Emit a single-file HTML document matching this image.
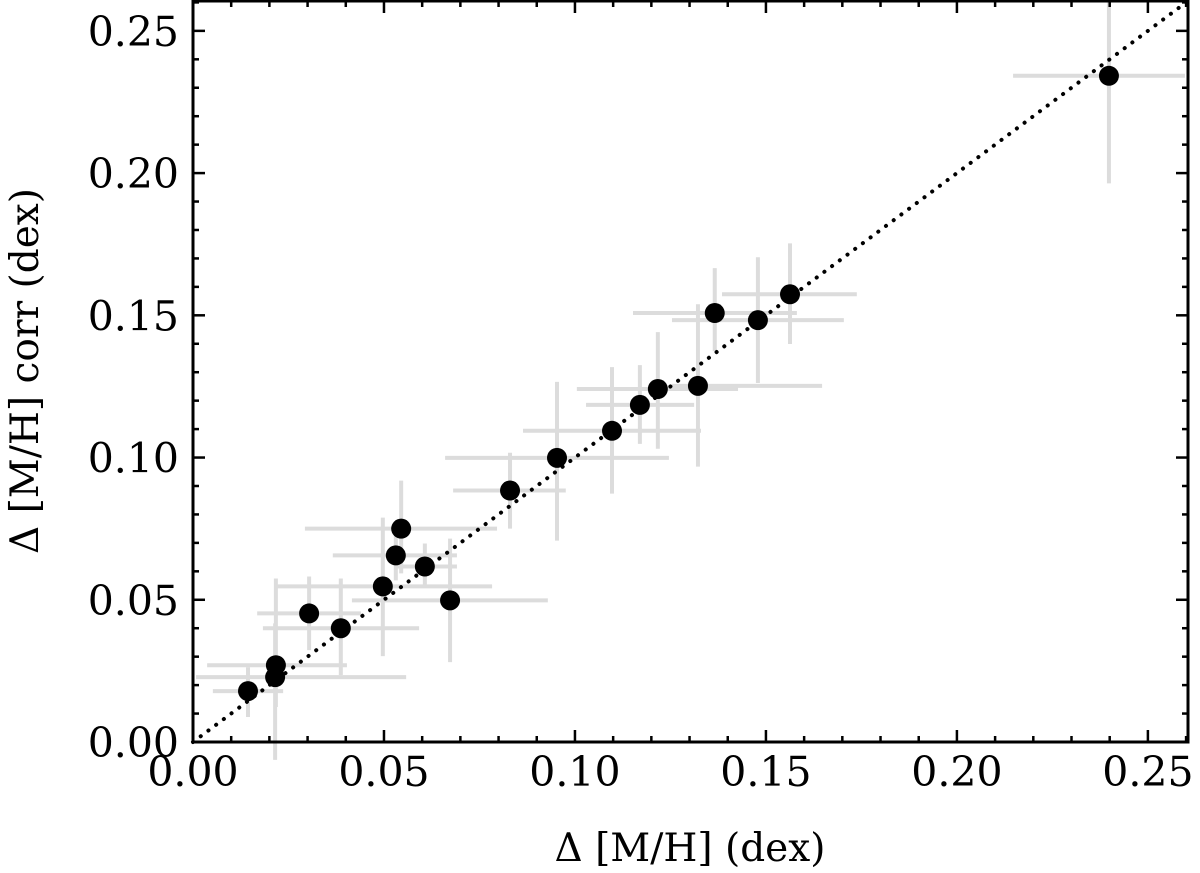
<!DOCTYPE html>
<html><head><meta charset="utf-8"><style>
html,body{margin:0;padding:0;background:#fff;}
svg text{font-family:"DejaVu Serif","Liberation Serif",serif;fill:#000;}
</style></head><body>
<svg id="chart" width="1200" height="868" viewBox="0 0 1200 868" xmlns="http://www.w3.org/2000/svg">
<g id="errs"></g>
<line id="diag" stroke="#000" stroke-width="4" stroke-dasharray="0.1 9.5" stroke-linecap="round"/>
<g id="pts"></g>
<g id="ticks"></g>
<rect x="193" y="1" width="995" height="741" fill="none" stroke="#000" stroke-width="3"/>
<text x="690" y="861" font-size="39" text-anchor="middle">Δ [M/H] (dex)</text>
<text transform="translate(38,371) rotate(-90)" font-size="39" text-anchor="middle">Δ [M/H] corr (dex)</text>
</svg>
<script>
const xVals=[0.0144,0.0215,0.0217,0.0304,0.0387,0.0497,0.0531,0.0545,0.0607,0.0673,0.0830,0.0953,0.1097,0.1170,0.1217,0.1322,0.1366,0.1479,0.1563,0.2398];
const yVals=[0.0179,0.0228,0.0270,0.0452,0.0400,0.0547,0.0656,0.0750,0.0617,0.0498,0.0884,0.0999,0.1094,0.1185,0.1241,0.1252,0.1508,0.1483,0.1574,0.2342];
const xMin=[0.0052,0.0008,0.0037,0.0168,0.0183,0.0220,0.0366,0.0293,0.0534,0.0416,0.0681,0.0660,0.0864,0.1029,0.1005,0.1254,0.1152,0.1254,0.1385,0.2147];
const xMax=[0.0236,0.0558,0.0403,0.0440,0.0592,0.0783,0.0691,0.0796,0.0691,0.0929,0.0976,0.1246,0.1330,0.1312,0.1427,0.1647,0.1581,0.1704,0.1738,0.2597];
const yMin=[0.0088,-0.0063,0.0123,0.0323,0.0235,0.0302,0.0568,0.0593,0.0550,0.0281,0.0750,0.0708,0.0873,0.1048,0.1031,0.0968,0.1374,0.1262,0.1399,0.1964];
const yMax=[0.0263,0.0417,0.0575,0.0582,0.0575,0.0789,0.0743,0.0919,0.0698,0.0715,0.1017,0.1266,0.1318,0.1325,0.1441,0.1539,0.1666,0.1704,0.1753,0.2600];
const tickLabels=["0.00","0.05","0.10","0.15","0.20","0.25"];
const tickValues=[0,0.05,0.10,0.15,0.20,0.25];
const L=193,R=1188,T=1,B=742,DMAX=0.2605;
const sx=v=>L+(v/DMAX)*(R-L);
const sy=v=>B-(v/DMAX)*(B-T);
const NS="http://www.w3.org/2000/svg";
function mk(tag,attrs,parent){const e=document.createElementNS(NS,tag);for(const k in attrs)e.setAttribute(k,attrs[k]);parent.appendChild(e);return e;}
const errs=document.getElementById('errs'),pts=document.getElementById('pts'),ticks=document.getElementById('ticks');
for(let i=0;i<xVals.length;i++){
  const h=mk('line',{x1:sx(xMin[i]),x2:sx(xMax[i]),y1:sy(yVals[i]),y2:sy(yVals[i]),stroke:'#dcdcdc','stroke-width':4},errs);
  
  
  const v=mk('line',{x1:sx(xVals[i]),x2:sx(xVals[i]),y1:sy(Math.max(yMin[i],-0.01)),y2:sy(Math.min(yMax[i],DMAX)),stroke:'#dcdcdc','stroke-width':4},errs);
  
  
}
const d=document.getElementById('diag');
d.setAttribute('x1',sx(0));d.setAttribute('y1',sy(0));d.setAttribute('x2',sx(DMAX));d.setAttribute('y2',sy(DMAX));
for(let i=0;i<xVals.length;i++){
  const c=mk('circle',{cx:sx(xVals[i]),cy:sy(yVals[i]),r:10,fill:'#000'},pts);
  
  
}
for(let k=0;k<=26;k++){
  const v=k*0.01,major=(k%5===0),len=major?12:6;
  const X=sx(v),Y=sy(v);
  mk('line',{x1:X,x2:X,y1:B,y2:B-len,stroke:'#000','stroke-width':2.5},ticks);
  mk('line',{x1:X,x2:X,y1:T,y2:T+len,stroke:'#000','stroke-width':2.5},ticks);
  mk('line',{x1:L,x2:L+len,y1:Y,y2:Y,stroke:'#000','stroke-width':2.5},ticks);
  mk('line',{x1:R,x2:R-len,y1:Y,y2:Y,stroke:'#000','stroke-width':2.5},ticks);
}
for(let i=0;i<tickValues.length;i++){
  const tx=mk('text',{x:sx(tickValues[i]),y:786,'font-size':41,'text-anchor':'middle'},ticks);
  tx.textContent=tickLabels[i];
  
  
  const ty=mk('text',{x:179,y:sy(tickValues[i])+15,'font-size':41,'text-anchor':'end'},ticks);
  ty.textContent=tickLabels[i];
  
  
}
</script>
</body></html>
